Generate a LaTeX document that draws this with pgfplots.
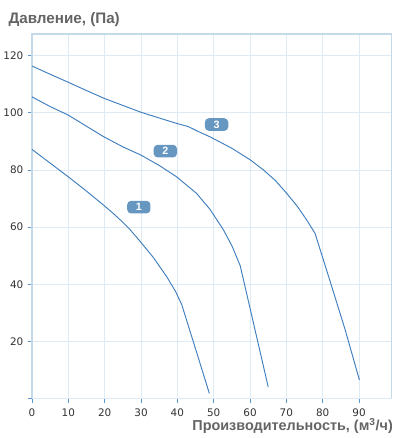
\documentclass[border=0pt]{standalone}
\usepackage{fontspec}
\setmainfont{Liberation Sans}
\newfontfamily\tickfont{DejaVu Sans}
\usepackage{pgfplots}
\pgfplotsset{compat=1.18}
\definecolor{curve}{RGB}{62,126,190}
\definecolor{lbl}{RGB}{102,151,192}
\definecolor{gridc}{RGB}{222,234,244}
\definecolor{axc}{RGB}{196,218,232}
\definecolor{tickc}{RGB}{90,150,205}
\definecolor{titlec}{RGB}{100,100,100}
\definecolor{ticktext}{RGB}{50,50,50}
\begin{document}
\begin{tikzpicture}
\useasboundingbox (-24pt,-29.6pt) rectangle (282.8pt,298.9pt);
\begin{axis}[
  at={(0,0)}, anchor=south west,
  scale only axis,
  width=269.8pt, height=273.4pt,
  xmin=0, xmax=99, ymin=0, ymax=127.6,
  xtick={0,10,...,90},
  ytick={20,40,...,120},
  extra y ticks={0}, extra y tick labels={},
  grid=major,
  major grid style={draw=gridc, line width=0.6pt},
  axis line style={draw=axc, line width=0.8pt},
  tick align=outside,
  major tick length=3pt,
  tick style={draw=tickc, line width=0.6pt},
  xtick pos=bottom, ytick pos=left,
  tick label style={font=\tickfont\fontsize{7.8}{9}\selectfont, text=ticktext},
  /pgf/number format/assume math mode=true,
  xticklabel style={yshift=-1.5pt},
  clip=false,
]
\addplot[curve, line width=0.7pt] coordinates {
(0,87.2)(5,82.4)(10,77.6)(15,72.6)(19.5,67.9)(22,65.2)(24.5,62.3)(27,59.1)(29.7,55.1)(33.5,49.2)(37.1,42.6)(39.5,37.5)(41.2,32.9)(45.3,16.2)(48.8,1.8)
};
\addplot[curve, line width=0.7pt] coordinates {
(0,105.6)(5,102.2)(10,99.2)(15,95.3)(19.8,91.6)(25,88.1)(30,85.2)(35,81.6)(39.8,77.6)(45.3,71.8)(49,66.2)(52.7,59)(55,53.5)(57.3,46.5)(65,4.1)
};
\addplot[curve, line width=0.7pt] coordinates {
(0,116.4)(5,113.5)(10,110.7)(15,107.8)(19.8,105.1)(25,102.6)(30,100.2)(35,98.2)(39.8,96.3)(43,95.2)(46.2,93.2)(49,91.6)(55,87.6)(60,83.6)(63.7,80)(67,76.3)(70.1,71.8)(73,67.3)(75.6,62.5)(77.9,57.8)(82,41.2)(86.2,24)(90.1,6.5)
};
\tikzset{numbox/.style={fill=lbl, rounded corners=3pt, text=white, font=\bfseries\fontsize{8}{9}\selectfont, minimum width=17.5pt, minimum height=9.5pt, inner sep=0pt}}
\node[numbox] at (axis cs:29.4,67.0) {1};
\node[numbox] at (axis cs:36.7,86.6) {2};
\node[numbox] at (axis cs:50.8,95.9) {3};
\end{axis}
\node[anchor=base west, font=\bfseries\fontsize{11.4}{13}\selectfont, text=titlec, inner sep=0pt] at (-17.8pt,281.4pt) {Давление, (Па)};
\node[anchor=base east, font=\bfseries\fontsize{10.8}{12}\selectfont, text=titlec, inner sep=0pt] at (270.8pt,-24.2pt) {Производительность, (м\textsuperscript{3}/ч)};
\end{tikzpicture}
\end{document}
